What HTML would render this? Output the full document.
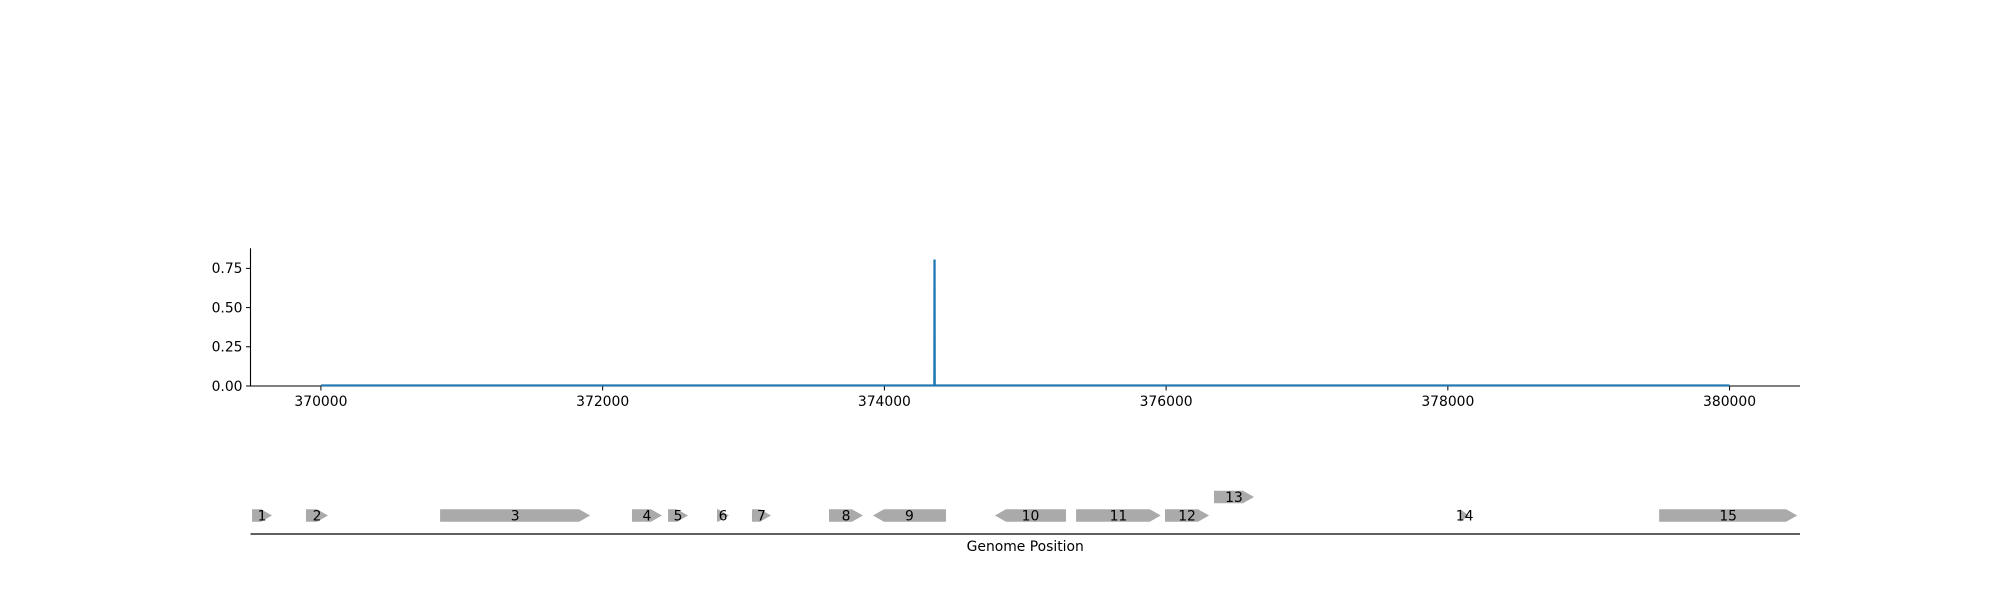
<!DOCTYPE html>
<html><head><meta charset="utf-8"><style>
body{margin:0;background:#fff;}
svg{display:block;font-family:"DejaVu Sans","Liberation Sans",sans-serif;}
</style></head><body>
<svg id="chart" width="2000" height="600" xmlns="http://www.w3.org/2000/svg"></svg>
<script>
const positions = [370000, 374354, 374355, 374357, 374358, 380000];
const coverage = [0.004, 0.004, 0.80, 0.80, 0.004, 0.004];
const xTicks = [370000, 372000, 374000, 376000, 378000, 380000];
const yTicks = [0, 0.25, 0.5, 0.75];
const yTickLabels = ["0.00", "0.25", "0.50", "0.75"];
const geneStart = [369511, 369894, 370846, 372208, 372464, 372812, 373060, 373607, 373919, 374785, 375361, 375992, 376340, 378087, 379500];
const geneEnd = [369653, 370050, 371911, 372421, 372606, 372897, 373195, 373848, 374437, 375289, 375962, 376305, 376624, 378151, 380480];
const geneStrand = [1,1,1,1,1,1,1,1,-1,-1,1,1,1,1,1];
const geneRow = [0,0,0,0,0,0,0,0,0,0,0,0,1,0,0];
const geneLabel = ["1","2","3","4","5","6","7","8","9","10","11","12","13","14","15"];

const NS="http://www.w3.org/2000/svg";
const svg=document.getElementById('chart');
const L=250.5,R=1800,xMin=369500,xMax=380500;
const yBot=386,yTop=248.3,yMax=0.878;
const X=v=>L+(v-xMin)/(xMax-xMin)*(R-L);
const Y=v=>yBot-v/yMax*(yBot-yTop);
function mk(tag,attrs,parent){const e=document.createElementNS(NS,tag);for(const k in attrs)e.setAttribute(k,attrs[k]);(parent||svg).appendChild(e);return e;}

// axes
let e=mk('line',{x1:L,y1:yTop,x2:L,y2:yBot,stroke:'#000','stroke-width':1.1});


e=mk('line',{x1:L,y1:yBot,x2:R,y2:yBot,stroke:'#000','stroke-width':1.1});


yTicks.forEach((t,i)=>{
  const tk=mk('line',{x1:L-4.5,y1:Y(t),x2:L,y2:Y(t),stroke:'#000','stroke-width':1});
  
  
  const tx=mk('text',{x:L-8,y:Y(t)+4.8,'text-anchor':'end','font-size':13.9});
  tx.textContent=yTickLabels[i];
  
  
});
xTicks.forEach(t=>{
  const tk=mk('line',{x1:X(t),y1:yBot,x2:X(t),y2:yBot+4.5,stroke:'#000','stroke-width':1});
  
  
  const tx=mk('text',{x:X(t),y:406,'text-anchor':'middle','font-size':13.9});
  tx.textContent=String(t);
  
  
});
// series
const pts=positions.map((p,i)=>X(p).toFixed(2)+','+Y(coverage[i]).toFixed(2)).join(' ');
e=mk('polyline',{points:pts,fill:'none',stroke:'#1f77b4','stroke-width':2});



// gene track
const rowY=[515.5,497];const h=12.4;const head=11;
geneStart.forEach((s,i)=>{
  const x1=X(s),x2=X(geneEnd[i]);const cy=rowY[geneRow[i]];const t=cy-h/2,b=cy+h/2;
  const hl=Math.min(head,x2-x1);
  let d;
  if(geneStrand[i]>0){d=`M${x1},${t}L${x2-hl},${t}L${x2},${cy}L${x2-hl},${b}L${x1},${b}Z`;}
  else{d=`M${x2},${t}L${x1+hl},${t}L${x1},${cy}L${x1+hl},${b}L${x2},${b}Z`;}
  const g=mk('path',{d:d,fill:'#aaaaaa'});
  
  
  const tx=mk('text',{x:(x1+x2)/2,y:cy+4.8,'text-anchor':'middle','font-size':13.9});
  tx.textContent=geneLabel[i];
  
  
});
e=mk('line',{x1:L,y1:534,x2:R,y2:534,stroke:'#000','stroke-width':1.3});


e=mk('text',{x:(L+R)/2,y:551,'text-anchor':'middle','font-size':13.9});
e.textContent='Genome Position';


</script>
</body></html>
